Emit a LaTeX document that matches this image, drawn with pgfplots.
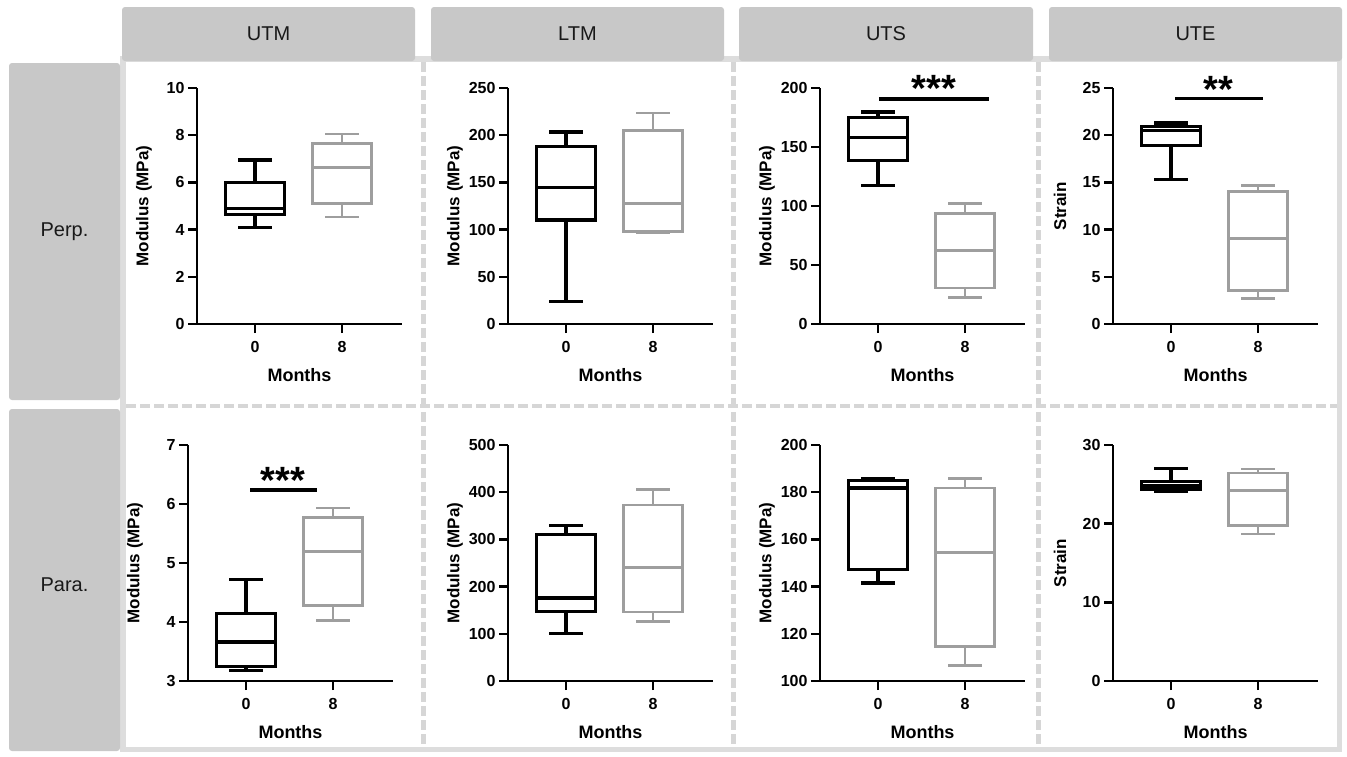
\documentclass[border=0pt]{standalone}
\usepackage{fontspec}
\setmainfont{Liberation Sans}
\usepackage{pgfplots}
\pgfplotsset{compat=1.18}
\definecolor{hdr}{RGB}{200,200,200}
\definecolor{frm}{RGB}{221,221,221}
\definecolor{dsh}{RGB}{214,214,214}
\definecolor{boxgray}{RGB}{158,158,158}
\pgfplotsset{
  prism/.style={
    scale only axis, width=205pt, height=236pt, anchor=south west,
    axis lines=left, axis line style={-, line width=2.5pt},
    xmin=-0.667, xmax=1.69, xtick={0,1}, xticklabels={0,8},
    tick align=outside, major tick length=9pt,
    tick style={black, line width=2.5pt},
    tick label style={font=\fontsize{16}{16}\selectfont\bfseries},
    xticklabel style={yshift=-5pt},
    /pgf/number format/assume math mode=true,
    xlabel={Months},
    xlabel style={font=\fontsize{18}{18}\selectfont\bfseries, at={(axis description cs:0.5,-0.216)}, anchor=center},
    ylabel style={font=\fontsize{17}{17}\selectfont\bfseries, at={(axis description cs:-0.2585,0.5)}, anchor=center},
    clip=false,
  },
  b0/.style={draw=black, line width=3.2pt, line join=miter},
  b8/.style={draw=boxgray, line width=2.7pt, line join=miter},
  sig/.style={black, line width=3.3pt},
}
\tikzset{stars/.style={anchor=north, inner sep=0pt, font=\fontsize{38}{38}\selectfont\bfseries}}
% box at position 0 (black): lw, lq, med, uq, uw
\newcommand{\bxA}[5]{%
  \addplot[b0] coordinates {(-0.34,#2) (0.34,#2) (0.34,#4) (-0.34,#4)} -- cycle;
  \addplot[b0] coordinates {(-0.34,#3) (0.34,#3)};
  \addplot[b0] coordinates {(0,#4) (0,#5)};
  \addplot[b0] coordinates {(-0.19,#5) (0.19,#5)};
  \addplot[b0] coordinates {(0,#2) (0,#1)};
  \addplot[b0] coordinates {(-0.19,#1) (0.19,#1)};}
% box at position 1 (gray)
\newcommand{\bxB}[5]{%
  \addplot[b8] coordinates {(0.66,#2) (1.34,#2) (1.34,#4) (0.66,#4)} -- cycle;
  \addplot[b8] coordinates {(0.66,#3) (1.34,#3)};
  \addplot[b8] coordinates {(1,#4) (1,#5)};
  \addplot[b8] coordinates {(0.81,#5) (1.19,#5)};
  \addplot[b8] coordinates {(1,#2) (1,#1)};
  \addplot[b8] coordinates {(0.81,#1) (1.19,#1)};}
\begin{document}
\begin{tikzpicture}
\path[use as bounding box, fill=white] (0pt,0pt) rectangle (1347pt,-756pt);
% frame
\fill[frm] (120pt,-56pt) rectangle (1342pt,-752pt);
\fill[white] (126pt,-62pt) rectangle (1337pt,-747pt);
\draw[dsh, line width=4.5pt, dash pattern=on 9.5pt off 4.5pt] (423.5pt,-62pt) -- (423.5pt,-747pt);
\draw[dsh, line width=4.5pt, dash pattern=on 9.5pt off 4.5pt] (733.5pt,-62pt) -- (733.5pt,-747pt);
\draw[dsh, line width=4.5pt, dash pattern=on 9.5pt off 4.5pt] (1038.5pt,-62pt) -- (1038.5pt,-747pt);
\draw[dsh, line width=4.5pt, dash pattern=on 9.5pt off 4.5pt] (126pt,-406pt) -- (1337pt,-406pt);
% headers
\fill[hdr, rounded corners=3pt] (122pt,-7pt) rectangle (415pt,-61pt);
\fill[hdr, rounded corners=3pt] (431pt,-7pt) rectangle (724pt,-61pt);
\fill[hdr, rounded corners=3pt] (739pt,-7pt) rectangle (1033pt,-61pt);
\fill[hdr, rounded corners=3pt] (1049pt,-7pt) rectangle (1342pt,-61pt);
\fill[hdr, rounded corners=3pt] (9pt,-63pt) rectangle (120pt,-400pt);
\fill[hdr, rounded corners=3pt] (9pt,-409pt) rectangle (120pt,-751pt);
\begin{scope}[every node/.style={font=\fontsize{20}{20}\selectfont, text=black!90}]
\node at (268.5pt,-34pt) {UTM};
\node at (577.5pt,-34pt) {LTM};
\node at (886pt,-34pt) {UTS};
\node at (1195.5pt,-34pt) {UTE};
\node at (64.5pt,-232pt) {Perp.};
\node at (64.5pt,-585pt) {Para.};
\end{scope}
% ---- row 1
\begin{axis}[prism, at={(197pt,-324pt)}, ymin=0, ymax=10, ytick={0,2,...,10}, ylabel={Modulus (MPa)}]
\bxA{4.10}{4.65}{4.90}{6.01}{6.95}
\bxB{4.54}{5.11}{6.62}{7.65}{8.05}
\end{axis}
\begin{axis}[prism, at={(508pt,-324pt)}, ymin=0, ymax=250, ytick={0,50,...,250}, ylabel={Modulus (MPa)}]
\bxA{24}{110.2}{144.8}{188.2}{203.4}
\bxB{96.8}{98.2}{127.8}{205.2}{223.5}
\end{axis}
\begin{axis}[prism, at={(820pt,-324pt)}, ymin=0, ymax=200, ytick={0,50,...,200}, ylabel={Modulus (MPa)}]
\bxA{117.5}{138.7}{158.2}{174.9}{179.7}
\bxB{22.3}{30.5}{62.1}{93.8}{102.3}
\addplot[sig] coordinates {(0.01,190.7) (1.28,190.7)};
\node[stars] at (axis cs:0.64,210.5) {***};
\end{axis}
\begin{axis}[prism, at={(1113pt,-324pt)}, ymin=0, ymax=25, ytick={0,5,...,25}, ylabel={Strain}]
\bxA{15.3}{18.9}{20.48}{20.94}{21.3}
\bxB{2.72}{3.57}{9.04}{14.05}{14.7}
\addplot[sig] coordinates {(0.05,23.87) (1.06,23.87)};
\node[stars] at (axis cs:0.545,26.3) {**};
\end{axis}
% ---- row 2
\begin{axis}[prism, at={(188pt,-681pt)}, ymin=3, ymax=7, ytick={3,4,...,7}, ylabel={Modulus (MPa)}]
\bxA{3.18}{3.24}{3.66}{4.14}{4.72}
\bxB{4.02}{4.28}{5.19}{5.77}{5.93}
\addplot[sig] coordinates {(0.05,6.24) (0.82,6.24)};
\node[stars] at (axis cs:0.425,6.62) {***};
\end{axis}
\begin{axis}[prism, at={(508pt,-681pt)}, ymin=0, ymax=500, ytick={0,100,...,500}, ylabel={Modulus (MPa)}]
\bxA{101.4}{147.9}{176}{309.9}{329.6}
\bxB{126}{146.5}{240.8}{373.2}{405.6}
\end{axis}
\begin{axis}[prism, at={(820pt,-681pt)}, ymin=100, ymax=200, ytick={100,120,...,200}, ylabel={Modulus (MPa)}]
\bxA{141.5}{147.3}{181.8}{184.9}{185.8}
\bxB{106.5}{114.5}{154.6}{181.8}{185.8}
\end{axis}
\begin{axis}[prism, at={(1113pt,-681pt)}, ymin=0, ymax=30, ytick={0,10,...,30}, ylabel={Strain}]
\bxA{24.1}{24.4}{24.84}{25.35}{27.04}
\bxB{18.7}{19.77}{24.2}{26.45}{26.95}
\end{axis}
\end{tikzpicture}
\end{document}
